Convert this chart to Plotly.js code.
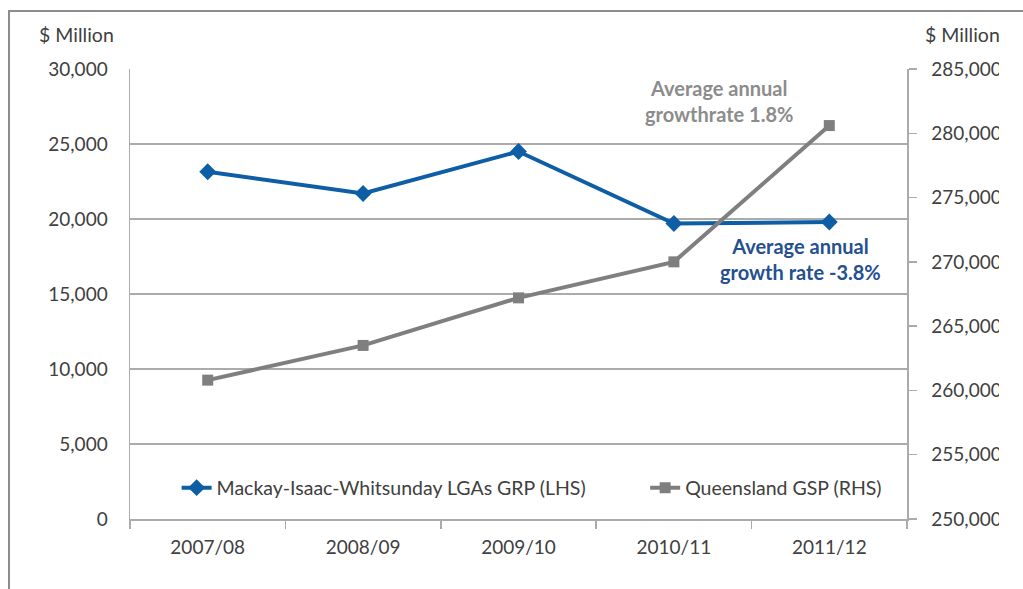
<!DOCTYPE html>
<html>
<head>
<meta charset="utf-8">
<script src="https://cdn.plot.ly/plotly-3.0.1.min.js"></script>
<style>html,body{margin:0;padding:0;background:#fff;}#chart{width:1023px;height:589px;}</style>
</head>
<body>
<div id="chart"></div>
<script>
var categories = ["2007/08", "2008/09", "2009/10", "2010/11", "2011/12"];
var mackayGRP = [23150, 21700, 24500, 19700, 19800];
var qldGSP = [260800, 263500, 267200, 270000, 280600];
var seriesNames = ["Mackay-Isaac-Whitsunday LGAs GRP (LHS)", "Queensland GSP (RHS)"];
var leftTitle = "$ Million";
var rightTitle = "$ Million";
var noteQld = "Average annual<br>growthrate 1.8%";
var noteMackay = "Average annual<br>growth rate -3.8%";

var FONT = "Lato, 'Open Sans', sans-serif";
var TXT = "#404040";
var GRID = "#ababab";
var BLUE = "#0e5ea6";
var GREY = "#7f7f7f";

var traces = [
  {
    x: categories, y: mackayGRP, name: seriesNames[0], type: "scatter", mode: "lines+markers",
    line: {color: BLUE, width: 4}, marker: {symbol: "diamond", size: 13, color: BLUE},
    yaxis: "y", cliponaxis: false, legend: "legend"
  },
  {
    x: categories, y: qldGSP, name: seriesNames[1], type: "scatter", mode: "lines+markers",
    line: {color: GREY, width: 4}, marker: {symbol: "square", size: 11, color: GREY},
    yaxis: "y2", cliponaxis: false, legend: "legend2"
  }
];

var legendFont = {family: FONT, size: 19.5, color: TXT};

var layout = {
  width: 1023, height: 589,
  margin: {l: 130, r: 116, t: 69, b: 70, pad: 0},
  paper_bgcolor: "#fff", plot_bgcolor: "#fff",
  font: {family: FONT, size: 19, color: TXT},
  showlegend: true,
  legend: {
    orientation: "h", x: 0.06, y: 0.069, xanchor: "left", yanchor: "middle",
    bgcolor: "rgba(255,255,255,0)", font: legendFont
  },
  legend2: {
    orientation: "h", x: 0.663, y: 0.069, xanchor: "left", yanchor: "middle",
    bgcolor: "rgba(255,255,255,0)", font: legendFont
  },
  xaxis: {
    type: "category", range: [-0.5, 4.5], fixedrange: true,
    showline: true, linecolor: GRID, linewidth: 1.5,
    ticks: "outside", tickson: "boundaries", ticklen: 8, tickcolor: GRID, tickwidth: 1.5,
    showgrid: false, zeroline: false, automargin: false,
    tickfont: {family: FONT, size: 19, color: TXT}, ticklabelstandoff: 11
  },
  yaxis: {
    range: [0, 30000], dtick: 5000, tick0: 0, tickformat: ",d",
    showline: true, linecolor: GRID, linewidth: 1.5,
    showgrid: true, gridcolor: GRID, gridwidth: 1.5, zeroline: false,
    ticks: "", automargin: false, ticklabelstandoff: 17,
    tickfont: {family: FONT, size: 19, color: TXT}
  },
  yaxis2: {
    overlaying: "y", side: "right", range: [250000, 285000], dtick: 5000, tick0: 250000,
    tickformat: ",d", showline: true, linecolor: GRID, linewidth: 1.5,
    showgrid: false, zeroline: false, ticks: "outside", ticklen: 8, tickcolor: GRID, tickwidth: 1.5,
    automargin: false, ticklabelstandoff: 11,
    tickfont: {family: FONT, size: 19, color: TXT}
  },
  shapes: [
    {type: "rect", xref: "paper", yref: "paper", x0: -0.1557, x1: 1.3, y0: -0.3, y1: 1.1289,
     line: {color: "#8c8c8c", width: 2}, fillcolor: "rgba(0,0,0,0)", layer: "below"},
    {type: "rect", xref: "paper", yref: "paper", x0: 1.1184, x1: 1.3, y0: -0.3, y1: 1.1222,
     line: {width: 0}, fillcolor: "#ffffff", layer: "above"}
  ],
  annotations: [
    {xref: "paper", yref: "paper", x: -0.12, y: 1.076, xanchor: "left", yanchor: "middle",
     text: leftTitle, showarrow: false, font: {family: FONT, size: 19.5, color: TXT}},
    {xref: "paper", yref: "paper", x: 1.02, y: 1.076, xanchor: "left", yanchor: "middle",
     text: rightTitle, showarrow: false, font: {family: FONT, size: 19.5, color: TXT}},
    {xref: "paper", yref: "paper", x: 0.758, y: 0.929, xanchor: "center", yanchor: "middle",
     text: noteQld, showarrow: false, align: "center",
     font: {family: FONT, size: 20, color: "#8c8c8c", weight: "bold"}},
    {xref: "paper", yref: "paper", x: 0.863, y: 0.577, xanchor: "center", yanchor: "middle",
     text: noteMackay, showarrow: false, align: "center",
     font: {family: FONT, size: 20, color: "#24508f", weight: "bold"}}
  ]
};

Plotly.newPlot("chart", traces, layout, {displayModeBar: false, staticPlot: true});
</script>
</body>
</html>
